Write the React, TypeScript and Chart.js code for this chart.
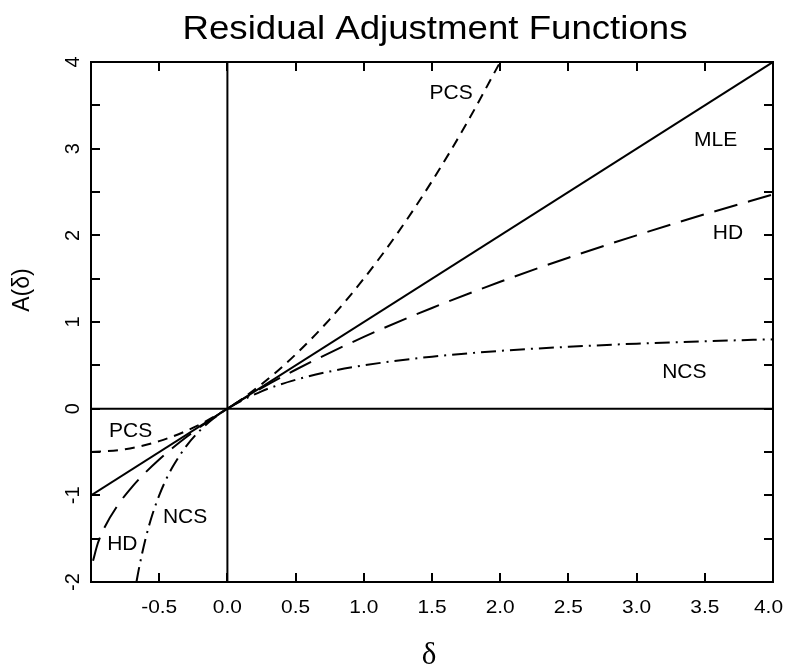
import React, { useEffect, useRef } from "react";
import { Chart, registerables } from "chart.js";

Chart.register(...registerables);

const TITLE = "Residual Adjustment Functions";
const X_TITLE = "δ";
const Y_TITLE = "A(δ)";

const X_TICK_VALUES = [-1, -0.5, 0, 0.5, 1, 1.5, 2, 2.5, 3, 3.5, 4];
const X_LABEL_VALUES = [-0.5, 0, 0.5, 1, 1.5, 2, 2.5, 3, 3.5, 4];
const X_LABELS = ["-0.5", "0.0", "0.5", "1.0", "1.5", "2.0", "2.5", "3.0", "3.5", "4.0"];
const Y_TICK_VALUES = [-2, -1.5, -1, -0.5, 0, 0.5, 1, 1.5, 2, 2.5, 3, 3.5, 4];
const Y_LABEL_VALUES = [-2, -1, 0, 1, 2, 3, 4];
const Y_LABELS = ["-2", "-1", "0", "1", "2", "3", "4"];

const MLE_X = [-1, 4];
const MLE_Y = [-1, 4];

const PCS_X = [-1, -0.75, -0.5, -0.25, 0, 0.25, 0.5, 0.75, 1, 1.25, 1.5, 1.75, 2];
const PCS_Y = [-0.5, -0.469, -0.375, -0.219, 0, 0.281, 0.625, 1.031, 1.5, 2.031, 2.625, 3.281, 4];

const HD_X = [-0.985, -0.95, -0.9, -0.8, -0.7, -0.6, -0.5, -0.4, -0.3, -0.2, -0.1, 0, 0.25, 0.5, 1, 1.5, 2, 2.5, 3, 3.5, 4];
const HD_Y = [-1.755, -1.553, -1.368, -1.106, -0.905, -0.735, -0.586, -0.451, -0.327, -0.211, -0.103, 0, 0.236, 0.449, 0.828, 1.162, 1.464, 1.742, 2, 2.243, 2.472];

const NCS_X = [-0.6667, -0.65, -0.6, -0.55, -0.5, -0.45, -0.4, -0.3, -0.2, -0.1, 0, 0.25, 0.5, 0.75, 1, 1.5, 2, 2.5, 3, 3.5, 4];
const NCS_Y = [-2, -1.857, -1.5, -1.222, -1, -0.818, -0.667, -0.429, -0.25, -0.111, 0, 0.2, 0.333, 0.429, 0.5, 0.6, 0.667, 0.714, 0.75, 0.778, 0.8];

const ZERO_V_X = [0, 0];
const ZERO_V_Y = [-2, 4];
const ZERO_H_X = [-1, 4];
const ZERO_H_Y = [0, 0];

const CURVE_LABELS = ["PCS", "MLE", "HD", "NCS", "PCS", "HD", "NCS"];
const CURVE_LABEL_POS: [number, number][] = [
  [1.64, 3.64],
  [3.58, 3.1],
  [3.67, 2.03],
  [3.35, 0.42],
  [-0.71, -0.26],
  [-0.77, -1.56],
  [-0.31, -1.25],
];

const pts = (xs: number[], ys: number[]) => xs.map((x, i) => ({ x, y: ys[i] }));

const FONT = "'Liberation Sans', Arial, Helvetica, sans-serif";

function stretchText(ctx: any, text: string, x: number, y: number, sx: number) {
  ctx.save();
  ctx.translate(x, y);
  ctx.scale(sx, 1);
  ctx.fillText(text, 0, 0);
  ctx.restore();
}

const decorPlugin = {
  id: "decor",
  afterDatasetsDraw(chart: any) {
    const { ctx, chartArea: a, scales } = chart;
    const xs = scales.x;
    const ys = scales.y;
    ctx.save();
    ctx.strokeStyle = "#000";
    ctx.lineWidth = 2;
    ctx.strokeRect(a.left, a.top, a.right - a.left, a.bottom - a.top);
    const tl = 9;
    ctx.beginPath();
    X_TICK_VALUES.forEach((v) => {
      const px = Math.round(xs.getPixelForValue(v));
      ctx.moveTo(px, a.bottom);
      ctx.lineTo(px, a.bottom - tl);
      ctx.moveTo(px, a.top);
      ctx.lineTo(px, a.top + tl);
    });
    Y_TICK_VALUES.forEach((v) => {
      const py = Math.round(ys.getPixelForValue(v));
      ctx.moveTo(a.left, py);
      ctx.lineTo(a.left + tl, py);
      ctx.moveTo(a.right, py);
      ctx.lineTo(a.right - tl, py);
    });
    ctx.stroke();
    ctx.restore();
  },
  afterDraw(chart: any) {
    const { ctx, scales } = chart;
    const xs = scales.x;
    const ys = scales.y;
    ctx.save();
    ctx.fillStyle = "#000";
    ctx.textAlign = "center";
    // title
    ctx.textBaseline = "alphabetic";
    ctx.font = `33px ${FONT}`;
    stretchText(ctx, TITLE, 435, 39, 1.11);
    // x tick labels
    ctx.font = `19px ${FONT}`;
    X_LABEL_VALUES.forEach((v, i) => {
      const sx = 1.1;
      const w = ctx.measureText(X_LABELS[i]).width * sx;
      let cx = xs.getPixelForValue(v);
      if (cx + w / 2 > 783) cx = 783 - w / 2;
      stretchText(ctx, X_LABELS[i], cx, 613, sx);
    });
    // y tick labels rotated
    ctx.textBaseline = "middle";
    ctx.font = `20px ${FONT}`;
    Y_LABEL_VALUES.forEach((v, i) => {
      ctx.save();
      ctx.translate(73, ys.getPixelForValue(v));
      ctx.rotate(-Math.PI / 2);
      ctx.fillText(Y_LABELS[i], 0, 0);
      ctx.restore();
    });
    // axis titles
    ctx.font = `31px 'Liberation Serif', 'DejaVu Serif', serif`;
    ctx.fillText(X_TITLE, 429, 656);
    ctx.save();
    ctx.translate(23, 290);
    ctx.rotate(-Math.PI / 2);
    ctx.font = `23px ${FONT}`;
    ctx.fillText(Y_TITLE, 0, 0);
    ctx.restore();
    // curve labels
    ctx.font = `21px ${FONT}`;
    CURVE_LABELS.forEach((t, i) => {
      const [x, y] = CURVE_LABEL_POS[i];
      ctx.fillText(t, xs.getPixelForValue(x), ys.getPixelForValue(y));
    });
    ctx.restore();
  },
};

export default function App() {
  const ref = useRef<HTMLCanvasElement | null>(null);
  useEffect(() => {
    if (!ref.current) return;
    const common = {
      borderColor: "#000",
      borderWidth: 2,
      pointRadius: 0,
      fill: false,
      cubicInterpolationMode: "monotone" as const,
    };
    const chart = new Chart(ref.current, {
      type: "line",
      data: {
        datasets: [
          { ...common, label: "zeroV", data: pts(ZERO_V_X, ZERO_V_Y) },
          { ...common, label: "zeroH", data: pts(ZERO_H_X, ZERO_H_Y) },
          { ...common, label: "MLE", data: pts(MLE_X, MLE_Y) },
          { ...common, label: "PCS", data: pts(PCS_X, PCS_Y), borderDash: [10, 7] },
          { ...common, label: "HD", data: pts(HD_X, HD_Y), borderDash: [24, 11] },
          { ...common, label: "NCS", data: pts(NCS_X, NCS_Y), borderDash: [15, 6, 2, 6] },
        ],
      },
      options: {
        animation: false,
        responsive: false,
        devicePixelRatio: 1,
        layout: { padding: { left: 91, right: 13, top: 62, bottom: 90 } },
        plugins: { legend: { display: false }, tooltip: { enabled: false }, title: { display: false } },
        scales: {
          x: { type: "linear", min: -1, max: 4, display: false },
          y: { type: "linear", min: -2, max: 4, display: false },
        },
      },
      plugins: [decorPlugin],
    });
    return () => chart.destroy();
  }, []);
  return (
    <div style={{ position: "fixed", left: 0, top: 0, width: 786, height: 672, background: "#fff" }}>
      <canvas ref={ref} width={786} height={672} />
    </div>
  );
}
